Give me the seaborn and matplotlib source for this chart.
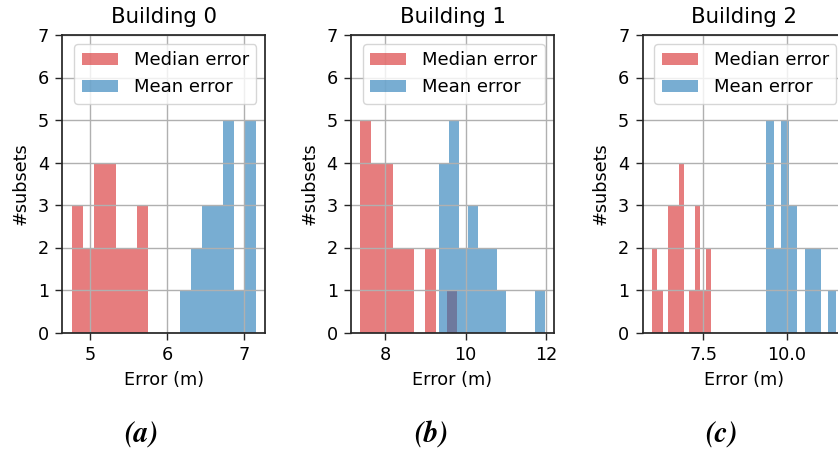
import numpy as np
import pandas as pd
import matplotlib
matplotlib.use("Agg")
import matplotlib.pyplot as plt
import seaborn as sns

# ---------------- data ----------------
buildings = ["Building 0", "Building 1", "Building 2"]
panel_labels = ["(a)", "(b)", "(c)"]
series_names = ["Median error", "Mean error"]

# histogram range (m) and number of subsets per bin
median_range = [(4.763, 5.760), (7.380, 9.792), (5.953, 7.731)]
median_counts = [
    [3, 2, 4, 4, 2, 2, 3],
    [5, 4, 4, 2, 2, 0, 2, 0, 1],
    [2, 1, 0, 3, 3, 4, 0, 1, 3, 1, 2],
]
mean_range = [(6.166, 7.159), (9.347, 11.965), (9.370, 11.484)]
mean_counts = [
    [1, 2, 3, 3, 5, 1, 5],
    [4, 5, 2, 3, 2, 2, 1, 0, 0, 0, 1],
    [5, 2, 5, 3, 0, 2, 2, 0, 1],
]
x_ticks = [[5, 6, 7], [8, 10, 12], [5.0, 7.5, 10.0, 12.5]]
y_ticks = [0, 1, 2, 3, 4, 5, 6, 7]

# ---------------- style ----------------
plt.rcParams["font.family"] = ["DejaVu Sans"]
FS = 12.7
W, H = 838, 453
fig = plt.figure(figsize=(W / 100, H / 100), dpi=100)

red = "tab:red"
blue = "tab:blue"

ax_left_px = [62.4, 351.0, 642.5]
ax_w_px = 203.0
ax_top_px, ax_bot_px = 35.0, 332.5
label_x_px = [141.7, 431.7, 721.7]


def hist(ax, rng, counts, color, label):
    edges = np.linspace(rng[0], rng[1], len(counts) + 1)
    centers = (edges[:-1] + edges[1:]) / 2
    df = pd.DataFrame({"error": centers, "n": np.asarray(counts, float)})
    sns.histplot(data=df, x="error", weights="n", bins=list(edges),
                 color=color, alpha=0.6, edgecolor="none", linewidth=0,
                 ax=ax, label=label)


for i in range(3):
    ax = fig.add_axes([ax_left_px[i] / W, (H - ax_bot_px) / H,
                       ax_w_px / W, (ax_bot_px - ax_top_px) / H])
    hist(ax, median_range[i], median_counts[i], red, series_names[0])
    hist(ax, mean_range[i], mean_counts[i], blue, series_names[1])
    ax.set_axisbelow("line")
    ax.set_ylim(0, 7)
    ax.set_yticks(y_ticks)
    xl = ax.get_xlim()
    ax.set_xticks(x_ticks[i])
    ax.set_xlim(xl)
    ax.grid(True, color="#b0b0b0", linewidth=1.0)
    ax.set_title(buildings[i], fontsize=15.3, pad=8.5)
    ax.set_xlabel("Error (m)", fontsize=FS, labelpad=5)
    ax.set_ylabel("#subsets", fontsize=FS, labelpad=6)
    ax.tick_params(labelsize=FS, length=5, width=1.0, pad=4.5,
                   color="#262626")
    for s in ax.spines.values():
        s.set_color("#262626")
        s.set_linewidth(1.25)
    ax.legend(loc="upper right", fontsize=13, handletextpad=0.9)
    fig.text(label_x_px[i] / W, 1 - 435 / H, panel_labels[i],
             family="STIXGeneral", style="italic", weight="bold",
             fontsize=21, ha="center", va="center")

fig.savefig("out.png", dpi=100)
